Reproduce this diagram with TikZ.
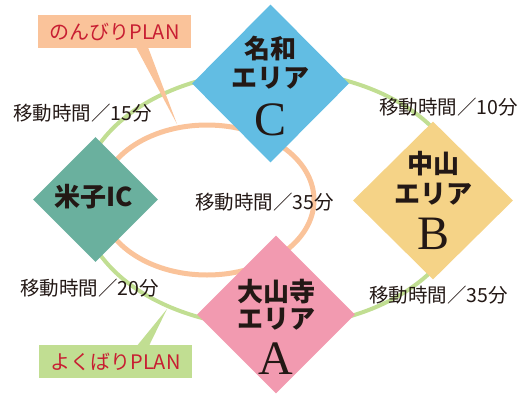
\documentclass[tikz,border=0pt]{standalone}
\usepackage{fontspec}
\usetikzlibrary{shapes.geometric}
\newfontfamily\cjk{Noto Sans CJK JP}
\newfontfamily\serifL{Liberation Serif}
\definecolor{cblue}{RGB}{98,189,227}
\definecolor{cteal}{RGB}{106,176,158}
\definecolor{cyellow}{RGB}{245,211,135}
\definecolor{cpink}{RGB}{242,154,176}
\definecolor{cgreen}{RGB}{193,222,146}
\definecolor{corange}{RGB}{250,195,154}
\definecolor{cred}{RGB}{200,30,50}
\definecolor{cdark}{RGB}{35,24,21}
\tikzset{
  dia/.style={diamond, draw=none, inner sep=0pt, aspect=1},
  areatext/.style={font=\cjk\bfseries\fontsize{26}{28}\selectfont, text=cdark, inner sep=0pt},
  bigletter/.style={font=\serifL\fontsize{48}{50}\selectfont, text=cdark, inner sep=0pt},
  timelabel/.style={font=\cjk\fontsize{19.5}{21}\selectfont, text=cdark, inner sep=0pt, anchor=west},
  planbox/.style={rectangle, inner sep=0pt, minimum width=153, minimum height=33, font=\cjk\fontsize{20}{22}\selectfont, text=cred},
  greenline/.style={draw=cgreen, line width=4pt},
  orangeline/.style={draw=corange, line width=5pt}
}
\begin{document}
\begin{tikzpicture}[x=1pt,y=-1pt]
\useasboundingbox (0,0) rectangle (521,394);
% routes
\draw[greenline] (273,199) ellipse [x radius=192, y radius=128];
\draw[orangeline] (207,200) ellipse [x radius=107, y radius=75];
% diamonds
\node[dia, fill=cblue, minimum width=157, minimum height=158] (C) at (270.5,83.5) {};
\node[dia, fill=cteal, minimum width=125, minimum height=125] (IC) at (95.5,199.5) {};
\node[dia, fill=cyellow, minimum width=160, minimum height=158] (B) at (433,200.5) {};
\node[dia, fill=cpink, minimum width=158, minimum height=158] (A) at (276,314.5) {};
% diamond texts
\node[areatext] (Ct1) at (270.5,49) {名和};
\node[areatext] (Ct2) at (270.5,78) {エリア};
\node[bigletter] (Ct3) at (270.5,120) {C};
\node[areatext] (ICt) at (94,197) {米子IC};
\node[areatext] (Bt1) at (433,164) {中山};
\node[areatext] (Bt2) at (433,194) {エリア};
\node[bigletter] (Bt3) at (433,234) {B};
\node[areatext] (At1) at (276,292) {大山寺};
\node[areatext] (At2) at (276,319) {エリア};
\node[bigletter] (At3) at (276,359) {A};
% time labels
\node[timelabel] (L1) at (13,113) {移動時間／15分};
\node[timelabel] (L2) at (379,107) {移動時間／10分};
\node[timelabel] (L3) at (195,202) {移動時間／35分};
\node[timelabel] (L4) at (20,288) {移動時間／20分};
\node[timelabel] (L5) at (369,295) {移動時間／35分};
% callouts
\node[planbox, fill=corange] (P1) at (114.5,31.5) {のんびりPLAN};
\coordinate (T1) at (177,124);
\fill[corange] ([xshift=21.5pt,yshift=1pt]P1.south) -- ([xshift=33.5pt,yshift=1pt]P1.south) -- (T1) -- cycle;
\node[planbox, fill=cgreen] (P2) at (115.5,361.5) {よくばりPLAN};
\coordinate (T2) at (167,309);
\fill[cgreen] ([xshift=21.5pt,yshift=-1pt]P2.north) -- ([xshift=33.5pt,yshift=-1pt]P2.north) -- (T2) -- cycle;
\end{tikzpicture}
\end{document}
